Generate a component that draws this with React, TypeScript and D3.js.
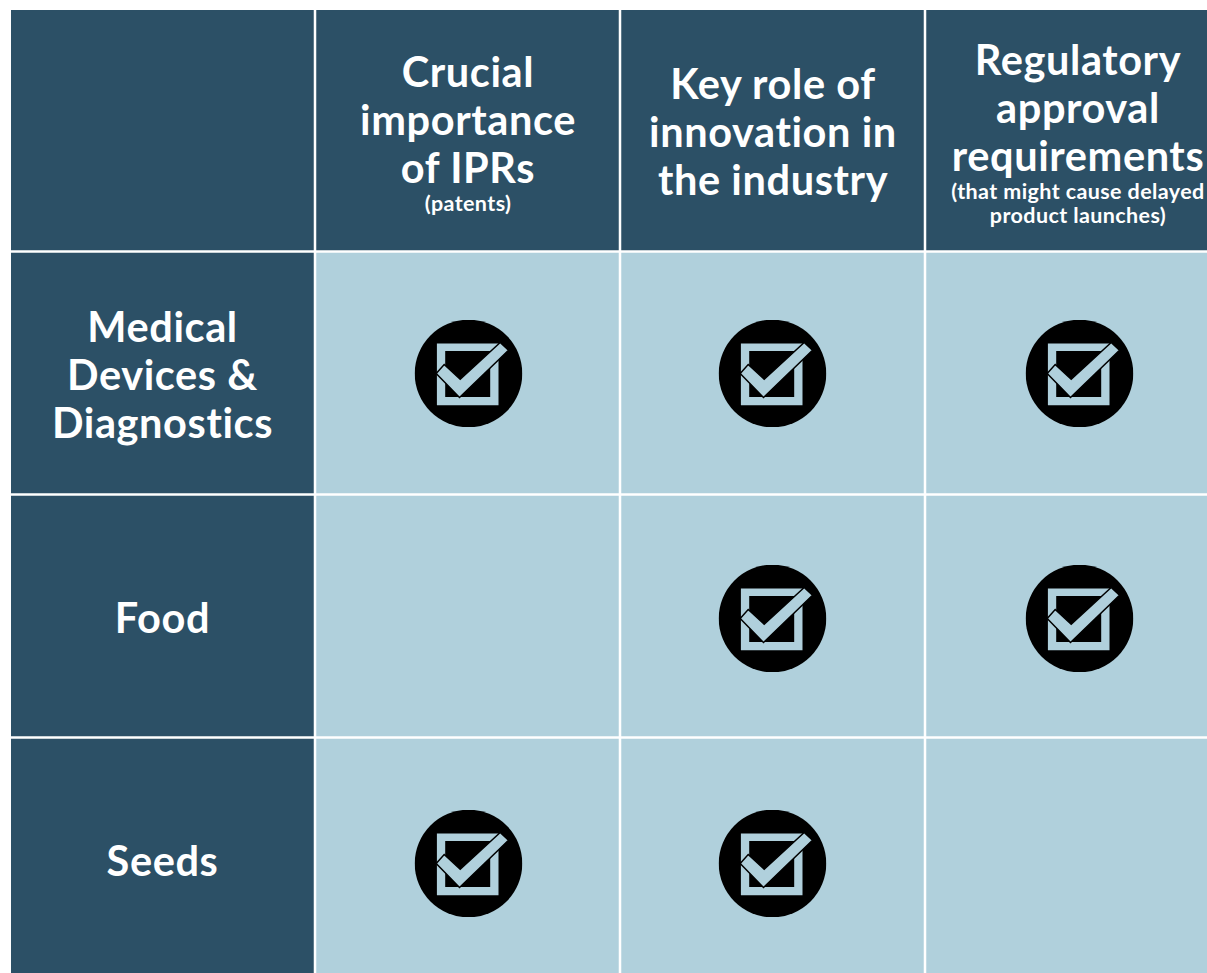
import * as d3 from "d3";
import React from "react";

const width = 1207;
const height = 973;

const columns = ["row", "ipr", "innovation", "regulatory"];
const rows = ["medical", "food", "seeds"];

const headerLines = [
  ["Crucial", "importance", "of IPRs"],
  ["Key role of", "innovation in", "the industry"],
  ["Regulatory", "approval", "requirements"],
];
const headerNotes = [
  ["(patents)"],
  [],
  ["(that might cause delayed", "product launches)"],
];
const rowLines = [
  ["Medical", "Devices &", "Diagnostics"],
  ["Food"],
  ["Seeds"],
];
const checks = [
  [1, 1, 1],
  [0, 1, 1],
  [1, 1, 0],
];

const DARK = "#2c5066";
const LIGHT = "#b0d0dc";
const FONT = "Lato, sans-serif";

const x = d3.scaleBand<string>().domain(columns).range([10, 1230]);
const y = d3.scaleBand<string>().domain(rows).range([251.5, 980.5]);
// the icons sit on a slightly wider row pitch than the grid
const iconY = d3.scalePoint<string>().domain(rows).range([373.5, 863.5]);
const iconX = d3.scaleOrdinal<string, number>().domain(columns.slice(1)).range([468.5, 772.5, 1079.5]);
const line = d3.line();

const checkShape: [number, number][] = [
  [-32.3, 0], [-24.3, -9], [-8.3, 5.7], [31.7, -31], [40, -23.3], [-9, 24],
];
const boxOuter: [number, number][] = [[-31.6, -30], [30, -30], [30, 31.7], [-31.6, 31.7]];
const boxInner: [number, number][] = [[-23.3, -22.6], [21.7, -22.6], [21.7, 23.4], [-23.3, 23.4]];

const CheckIcon = ({ cx, cy }: { cx: number; cy: number }) => (
  <g transform={`translate(${cx},${cy})`}>
    <circle r={53.8} fill="#000" clipPath="url(#iconClip)" />
    <path d={(line(boxOuter) as string) + "Z" + (line(boxInner) as string) + "Z"} fill={LIGHT} fillRule="evenodd" />
    <path d={(line(checkShape) as string) + "Z"} fill={LIGHT} stroke="#000" strokeWidth={1.5} />
  </g>
);

export default function App() {
  const bw = x.bandwidth();
  const headerCols = columns.slice(1);

  return (
    <svg width={width} height={height} style={{ position: "absolute", left: 0, top: 0, background: "#fff" }} fontFamily={FONT} fontWeight={700}>
      <defs>
        <clipPath id="iconClip">
          <rect x={-54} y={-53.5} width={108} height={107} />
        </clipPath>
      </defs>

      {/* header row */}
      {columns.map((c) => (
        <rect key={c} x={Math.max(x(c)!, 11)} y={10} width={bw - (c === "row" ? 1 : 0)} height={241.5} fill={DARK} />
      ))}

      {/* body */}
      {rows.map((r) => (
        <g key={r}>
          {columns.map((c) => (
            <rect key={c} x={Math.max(x(c)!, 11)} y={y(r)} width={bw - (c === "row" ? 1 : 0)} height={y.bandwidth()} fill={c === "row" ? DARK : LIGHT} />
          ))}
        </g>
      ))}

      {/* grid lines */}
      {columns.slice(1).map((c) => (
        <line key={c} x1={x(c)} x2={x(c)} y1={10} y2={height} stroke="#fff" strokeWidth={2.5} />
      ))}
      {rows.map((r) => (
        <line key={r} x1={11} x2={width} y1={y(r)} y2={y(r)} stroke="#fff" strokeWidth={2.5} />
      ))}

      {/* header text */}
      {headerCols.map((c, i) => {
        const cx = x(c)! + bw / 2 + 0.5;
        const first = 99 - 12 * headerNotes[i].length;
        return (
          <g key={c} textAnchor="middle" fill="#fff">
            {headerLines[i].map((t, j) => (
              <text key={t} x={cx} y={first + j * 48} fontSize={41.5} letterSpacing={0.6}>{t}</text>
            ))}
            {headerNotes[i].map((t, j) => (
              <text key={t} x={cx} y={first + 2 * 48 + 28 + j * 24} fontSize={21.5} letterSpacing={0.4}>{t}</text>
            ))}
          </g>
        );
      })}

      {/* row labels */}
      {rows.map((r, i) => {
        const cy = y(r)! + y.bandwidth() / 2;
        const cx = x("row")! + bw / 2;
        return (
          <g key={r} textAnchor="middle" fill="#fff">
            {rowLines[i].map((t, j) => (
              <text key={t} x={cx} y={cy + 17 - (rowLines[i].length - 1) * 24 + j * 48} fontSize={41.5} letterSpacing={0.6}>{t}</text>
            ))}
          </g>
        );
      })}

      {/* check marks */}
      {rows.map((r, i) =>
        headerCols.map((c, j) =>
          checks[i][j] ? <CheckIcon key={r + c} cx={iconX(c)} cy={iconY(r)!} /> : null
        )
      )}
    </svg>
  );
}
